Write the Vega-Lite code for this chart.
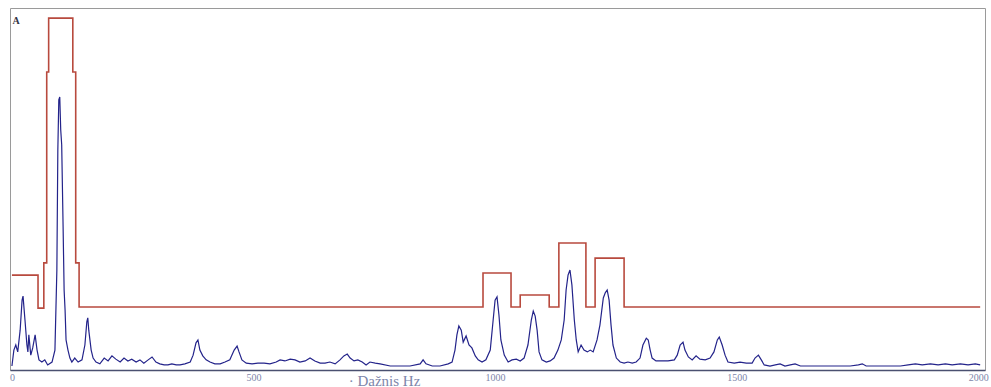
{
  "$schema": "https://vega.github.io/schema/vega-lite/v6.json",
  "autosize": {"type": "none"},
  "padding": {"left": 10, "top": 8, "right": 6, "bottom": 17},
  "width": 975,
  "height": 362,
  "background": "white",
  "config": {
    "view": {"stroke": "#9a9a9a", "strokeWidth": 1},
    "font": "Liberation Serif"
  },
  "datasets": {
    "spectrum": [
      {"f":0,"a":1.1},{"f":4,"a":5.5},{"f":8,"a":6.9},{"f":12,"a":5.0},{"f":17,"a":11.0},{"f":21,"a":19.3},{"f":23,"a":20.4},{"f":27,"a":13.8},{"f":31,"a":6.9},{"f":33,"a":5.0},{"f":35,"a":9.7},{"f":39,"a":4.1},{"f":43,"a":6.1},{"f":48,"a":9.7},{"f":52,"a":5.5},{"f":56,"a":2.8},{"f":62,"a":2.2},{"f":68,"a":2.8},{"f":74,"a":1.4},{"f":83,"a":2.2},{"f":89,"a":5.5},{"f":93,"a":27.6},{"f":95,"a":60.8},{"f":97,"a":74.6},{"f":99,"a":75.4},{"f":101,"a":66.3},{"f":103,"a":62.2},{"f":106,"a":38.7},{"f":108,"a":22.1},{"f":110,"a":16.6},{"f":112,"a":8.3},{"f":116,"a":5.5},{"f":120,"a":3.3},{"f":124,"a":2.2},{"f":130,"a":3.3},{"f":137,"a":2.2},{"f":145,"a":2.8},{"f":151,"a":6.9},{"f":155,"a":13.3},{"f":157,"a":14.4},{"f":159,"a":11.0},{"f":164,"a":5.5},{"f":168,"a":3.3},{"f":174,"a":2.2},{"f":182,"a":1.7},{"f":191,"a":3.3},{"f":199,"a":2.5},{"f":207,"a":3.9},{"f":215,"a":3.0},{"f":224,"a":2.2},{"f":232,"a":3.3},{"f":240,"a":2.5},{"f":248,"a":3.0},{"f":257,"a":2.2},{"f":265,"a":2.8},{"f":273,"a":1.9},{"f":282,"a":2.8},{"f":290,"a":3.6},{"f":298,"a":2.2},{"f":306,"a":1.7},{"f":315,"a":1.4},{"f":323,"a":1.4},{"f":331,"a":1.7},{"f":340,"a":1.4},{"f":348,"a":1.4},{"f":358,"a":1.7},{"f":369,"a":2.2},{"f":375,"a":4.1},{"f":381,"a":7.5},{"f":385,"a":8.3},{"f":389,"a":5.5},{"f":395,"a":3.9},{"f":402,"a":2.8},{"f":410,"a":2.2},{"f":420,"a":1.7},{"f":431,"a":1.7},{"f":441,"a":2.2},{"f":451,"a":2.8},{"f":460,"a":5.5},{"f":466,"a":6.6},{"f":470,"a":5.0},{"f":476,"a":2.8},{"f":485,"a":1.9},{"f":497,"a":1.7},{"f":509,"a":1.9},{"f":522,"a":1.9},{"f":534,"a":1.7},{"f":547,"a":2.2},{"f":555,"a":2.8},{"f":565,"a":2.5},{"f":576,"a":3.0},{"f":586,"a":2.8},{"f":596,"a":2.2},{"f":607,"a":2.5},{"f":617,"a":3.3},{"f":627,"a":2.5},{"f":638,"a":1.9},{"f":648,"a":1.9},{"f":658,"a":2.2},{"f":669,"a":1.7},{"f":679,"a":2.8},{"f":687,"a":3.9},{"f":694,"a":4.4},{"f":700,"a":3.3},{"f":708,"a":2.5},{"f":716,"a":2.8},{"f":725,"a":2.2},{"f":733,"a":1.4},{"f":741,"a":2.2},{"f":752,"a":1.9},{"f":762,"a":1.7},{"f":783,"a":1.1},{"f":803,"a":1.1},{"f":824,"a":1.1},{"f":845,"a":1.7},{"f":851,"a":2.8},{"f":857,"a":1.7},{"f":870,"a":1.1},{"f":886,"a":1.1},{"f":903,"a":1.7},{"f":911,"a":2.2},{"f":917,"a":5.5},{"f":921,"a":9.7},{"f":925,"a":12.2},{"f":930,"a":11.0},{"f":934,"a":7.7},{"f":940,"a":9.4},{"f":946,"a":6.9},{"f":952,"a":6.1},{"f":959,"a":3.9},{"f":965,"a":2.8},{"f":973,"a":2.2},{"f":981,"a":2.8},{"f":990,"a":5.5},{"f":996,"a":13.8},{"f":1000,"a":19.3},{"f":1004,"a":20.2},{"f":1008,"a":15.2},{"f":1012,"a":8.3},{"f":1019,"a":4.1},{"f":1027,"a":2.2},{"f":1035,"a":2.8},{"f":1044,"a":3.0},{"f":1052,"a":2.5},{"f":1060,"a":3.3},{"f":1068,"a":6.9},{"f":1075,"a":13.8},{"f":1079,"a":16.3},{"f":1083,"a":14.9},{"f":1087,"a":11.0},{"f":1091,"a":5.0},{"f":1097,"a":2.8},{"f":1106,"a":2.2},{"f":1114,"a":2.5},{"f":1122,"a":3.3},{"f":1130,"a":5.5},{"f":1137,"a":8.3},{"f":1143,"a":13.8},{"f":1147,"a":22.1},{"f":1151,"a":26.2},{"f":1155,"a":27.6},{"f":1159,"a":23.5},{"f":1164,"a":13.8},{"f":1168,"a":8.3},{"f":1172,"a":5.0},{"f":1178,"a":6.9},{"f":1184,"a":5.5},{"f":1191,"a":5.0},{"f":1197,"a":5.5},{"f":1203,"a":5.0},{"f":1211,"a":8.3},{"f":1217,"a":12.4},{"f":1224,"a":19.9},{"f":1228,"a":21.3},{"f":1232,"a":22.1},{"f":1236,"a":19.3},{"f":1240,"a":12.4},{"f":1244,"a":6.9},{"f":1251,"a":3.3},{"f":1259,"a":2.2},{"f":1267,"a":1.9},{"f":1275,"a":2.2},{"f":1284,"a":1.9},{"f":1292,"a":2.2},{"f":1300,"a":3.3},{"f":1306,"a":6.9},{"f":1313,"a":8.8},{"f":1317,"a":8.3},{"f":1321,"a":5.5},{"f":1325,"a":3.3},{"f":1333,"a":2.5},{"f":1346,"a":2.5},{"f":1358,"a":2.5},{"f":1371,"a":2.8},{"f":1377,"a":4.1},{"f":1383,"a":6.9},{"f":1389,"a":7.7},{"f":1393,"a":5.5},{"f":1400,"a":3.6},{"f":1408,"a":2.8},{"f":1416,"a":3.9},{"f":1424,"a":3.0},{"f":1435,"a":2.8},{"f":1445,"a":3.3},{"f":1453,"a":5.0},{"f":1460,"a":8.3},{"f":1464,"a":9.1},{"f":1470,"a":6.9},{"f":1476,"a":4.1},{"f":1482,"a":2.2},{"f":1495,"a":1.9},{"f":1507,"a":2.2},{"f":1520,"a":1.9},{"f":1532,"a":1.9},{"f":1538,"a":3.3},{"f":1545,"a":4.1},{"f":1551,"a":2.8},{"f":1557,"a":1.4},{"f":1569,"a":1.1},{"f":1580,"a":1.4},{"f":1590,"a":1.7},{"f":1600,"a":1.1},{"f":1611,"a":1.4},{"f":1621,"a":1.7},{"f":1632,"a":1.1},{"f":1673,"a":1.1},{"f":1735,"a":1.1},{"f":1752,"a":1.4},{"f":1760,"a":1.7},{"f":1768,"a":1.1},{"f":1797,"a":1.1},{"f":1839,"a":1.1},{"f":1855,"a":1.4},{"f":1870,"a":1.7},{"f":1884,"a":1.4},{"f":1901,"a":1.7},{"f":1917,"a":1.4},{"f":1932,"a":1.7},{"f":1946,"a":1.4},{"f":1963,"a":1.7},{"f":1979,"a":1.4},{"f":1994,"a":1.7},{"f":2004,"a":1.4}
    ],
    "envelope": [
      {"f":0,"a":26.2},{"f":54,"a":17.1},{"f":66,"a":29.6},{"f":72,"a":82.3},{"f":76,"a":97.2},{"f":126,"a":82.3},{"f":132,"a":29.6},{"f":139,"a":17.4},{"f":975,"a":26.8},{"f":1033,"a":17.4},{"f":1052,"a":20.7},{"f":1112,"a":17.4},{"f":1132,"a":35.1},{"f":1188,"a":17.4},{"f":1207,"a":30.9},{"f":1267,"a":17.4},{"f":2004,"a":17.4}
    ],
    "marker": [{"t": "A", "f": 1, "a": 96.4}]
  },
  "encoding": {
    "x": {
      "field": "f",
      "type": "quantitative",
      "scale": {"domain": [-4, 2014], "nice": false, "zero": false},
      "axis": {
        "values": [0, 500, 1000, 1500, 2000],
        "format": "d",
        "grid": false,
        "ticks": false,
        "domainColor": "#4a5070",
        "domainWidth": 1.5,
        "labelColor": "#7d86aa",
        "labelFont": "Liberation Serif",
        "labelFontSize": 10,
        "labelPadding": 2,
        "title": "· Dažnis Hz",
        "titleFont": "Liberation Serif",
        "titleFontSize": 15,
        "titleFontWeight": "normal",
        "titleColor": "#7d86aa",
        "titleX": 374,
        "titleY": 18,
        "titleAlign": "center",
        "titleBaseline": "bottom"
      }
    },
    "y": {
      "field": "a",
      "type": "quantitative",
      "scale": {"domain": [0, 100], "nice": false},
      "axis": null
    }
  },
  "layer": [
    {
      "data": {"name": "envelope"},
      "mark": {"type": "line", "interpolate": "step-after", "color": "#b84a3e", "strokeWidth": 1.6}
    },
    {
      "data": {"name": "spectrum"},
      "mark": {"type": "line", "color": "#23238a", "strokeWidth": 1.2}
    },
    {
      "data": {"name": "marker"},
      "mark": {"type": "text", "align": "left", "baseline": "middle", "font": "Liberation Serif", "fontSize": 10, "fontWeight": "bold", "color": "#333344"},
      "encoding": {
        "text": {"field": "t", "type": "nominal"}
      }
    }
  ]
}
